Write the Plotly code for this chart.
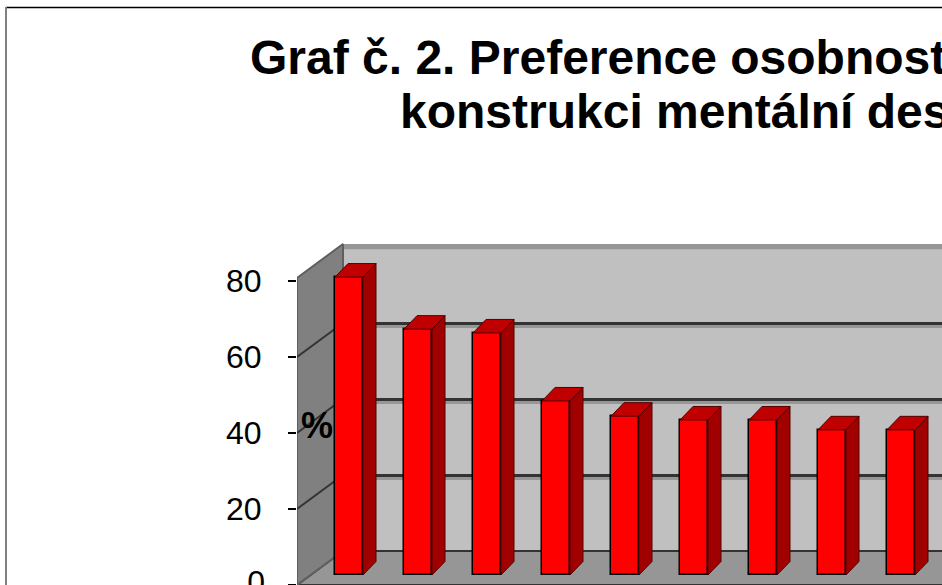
import plotly.graph_objects as go

# ---------------- data ----------------
categories = ["1", "2", "3", "4", "5", "6", "7", "8", "9"]
values = [78.4, 64.7, 63.7, 45.8, 41.8, 40.8, 40.8, 38.2, 38.2]
tick_values = [0, 20, 40, 60, 80]
tick_labels = ["0", "20", "40", "60", "80"]
grid_values = [0, 20, 40, 60]
title_line1 = "Graf č. 2. Preference osobností"
title_line2 = "konstrukci mentální des"
axis_title = "%"

# ---------------- geometry (layout) ----------------
W, H = 942, 585
PLOT_L, PLOT_T = 297, 230          # plot area left / top in px
PW, PH = W - PLOT_L, H - PLOT_T
PX_PER_CAT = 69.0
PX_PER_UNIT = 3.8
FIRST_CENTER_PX = 349.0

x_min = (PLOT_L - FIRST_CENTER_PX) / PX_PER_CAT
x_max = (W - FIRST_CENTER_PX) / PX_PER_CAT
y_top = PH / PX_PER_UNIT

BAR_PLANE_PX = 10.0
BACK_PLANE_PX = 34.0
WALL_DEPTH_X = 46.0 / PX_PER_CAT
WALL_DEPTH_Y = BACK_PLANE_PX / PX_PER_UNIT
WALL_TOP = 80.8
bar_w = 28.0 / PX_PER_CAT
bar_ddx = 13.0 / PX_PER_CAT
bar_ddy = 13.5 / PX_PER_UNIT

def px2paper_x(px):
    return px / W

def px2paper_y(py):
    return (H - py) / H

x_dom = [px2paper_x(PLOT_L), 1.0]
y_dom = [0.0, px2paper_y(PLOT_T)]

xs = list(range(len(categories)))

fig = go.Figure()

# floor
fig.add_trace(go.Scatter(
    x=[x_min, x_min + WALL_DEPTH_X, x_max + 1, x_max + 1, x_min],
    y=[0, WALL_DEPTH_Y, WALL_DEPTH_Y, 0, 0],
    fill="toself", fillcolor="#969696", mode="lines",
    line=dict(color="#333333", width=2), hoverinfo="skip", yaxis="y"))

# side wall
fig.add_trace(go.Scatter(
    x=[x_min, x_min, x_min + WALL_DEPTH_X, x_min + WALL_DEPTH_X, x_min],
    y=[0, WALL_TOP, WALL_TOP + WALL_DEPTH_Y, WALL_DEPTH_Y, 0],
    fill="toself", fillcolor="#808080", mode="lines",
    line=dict(color="#5f5f5f", width=2), hoverinfo="skip", yaxis="y"))

# side wall grid diagonals
dx_, dy_ = [], []
for v in grid_values[1:]:
    dx_ += [x_min, x_min + WALL_DEPTH_X, None]
    dy_ += [v, v + WALL_DEPTH_Y, None]
fig.add_trace(go.Scatter(x=dx_, y=dy_, mode="lines",
                         line=dict(color="#333333", width=2),
                         hoverinfo="skip", yaxis="y"))

# bars: front faces
fig.add_trace(go.Bar(
    x=xs, y=values, width=bar_w, yaxis="y2",
    marker=dict(color="#FF0000", line=dict(color="#000000", width=1.5)),
    hovertext=categories, hoverinfo="text+y"))

# bar side faces
sx, sy = [], []
for i, v in zip(xs, values):
    xr = i + bar_w / 2
    sx += [xr, xr + bar_ddx, xr + bar_ddx, xr, xr, None]
    sy += [0, bar_ddy, v + bar_ddy, v, 0, None]
fig.add_trace(go.Scatter(x=sx, y=sy, fill="toself", fillcolor="#A00000",
                         mode="lines", line=dict(color="#500000", width=1),
                         hoverinfo="skip", yaxis="y2"))

# bar top faces
tx, ty = [], []
for i, v in zip(xs, values):
    xl, xr = i - bar_w / 2, i + bar_w / 2
    tx += [xl, xr, xr + bar_ddx, xl + bar_ddx, xl, None]
    ty += [v, v, v + bar_ddy, v + bar_ddy, v, None]
fig.add_trace(go.Scatter(x=tx, y=ty, fill="toself", fillcolor="#C00000",
                         mode="lines", line=dict(color="#500000", width=1),
                         hoverinfo="skip", yaxis="y2"))

# the "0" tick label, cut by the bottom edge (clipped inside a small helper subplot)
fig.add_trace(go.Scatter(
    x=[1], y=[tick_values[0]], text=[tick_labels[0]], mode="text",
    textposition="middle left", cliponaxis=True,
    textfont=dict(size=32, family="Liberation Sans, Arial", color="#000000"),
    xaxis="x2", yaxis="y4", hoverinfo="skip"))

shapes = []
shapes.append(dict(type="rect", xref="x", yref="y3",
                   x0=x_min + WALL_DEPTH_X, x1=x_max + 1, y0=0, y1=WALL_TOP,
                   fillcolor="#C0C0C0", line=dict(width=0), layer="below"))
shapes.append(dict(type="rect", xref="x", yref="y3",
                   x0=x_min + WALL_DEPTH_X, x1=x_max + 1, y0=WALL_TOP - 1.4, y1=WALL_TOP,
                   fillcolor="#969696", line=dict(width=0), layer="below"))
for v in grid_values[1:]:
    shapes.append(dict(type="rect", xref="x", yref="y3",
                       x0=x_min + WALL_DEPTH_X, x1=x_max + 1, y0=v - 1.3, y1=v - 0.3,
                       fillcolor="#969696", line=dict(width=0), layer="below"))
# chart area border
shapes.append(dict(type="line", xref="paper", yref="paper",
                   x0=px2paper_x(6), x1=1.0, y0=px2paper_y(7.5), y1=px2paper_y(7.5),
                   line=dict(color="#000000", width=1.5)))
shapes.append(dict(type="line", xref="paper", yref="paper",
                   x0=px2paper_x(6), x1=px2paper_x(6), y0=px2paper_y(7), y1=0.0,
                   line=dict(color="#808080", width=2)))

annotations = [
    dict(text=f"<b>{title_line1}</b>", xref="paper", yref="paper",
         x=px2paper_x(248), y=px2paper_y(58), xanchor="left", yanchor="middle",
         showarrow=False, font=dict(family="Liberation Sans, Arial", size=48, color="#000000")),
    dict(text=f"<b>{title_line2}</b>", xref="paper", yref="paper",
         x=px2paper_x(398), y=px2paper_y(112), xanchor="left", yanchor="middle",
         showarrow=False, font=dict(family="Liberation Sans, Arial", size=48, color="#000000")),
    dict(text=f"<b>{axis_title}</b>", xref="paper", yref="paper",
         x=px2paper_x(317), y=px2paper_y(425), xanchor="center", yanchor="middle",
         showarrow=False, font=dict(family="Liberation Sans, Arial", size=36, color="#000000")),
]

fig.update_layout(
    width=W, height=H,
    margin=dict(l=0, r=0, t=0, b=0, pad=0),
    paper_bgcolor="#FFFFFF", plot_bgcolor="#FFFFFF",
    showlegend=False, bargap=0,
    font=dict(family="Liberation Sans, Arial", color="#000000"),
    xaxis=dict(domain=x_dom, range=[x_min, x_max], visible=False, fixedrange=True),
    yaxis=dict(domain=y_dom, range=[0, y_top], tickvals=tick_values,
               ticktext=[""] + tick_labels[1:],
               ticks="outside", ticklen=8, tickwidth=1.5, tickcolor="#000000",
               showgrid=False, zeroline=False, showline=False,
               tickfont=dict(size=32, family="Liberation Sans, Arial", color="#000000"),
               ticklabelstandoff=20),
    yaxis2=dict(domain=y_dom, range=[-BAR_PLANE_PX / PX_PER_UNIT, y_top - BAR_PLANE_PX / PX_PER_UNIT],
                overlaying="y", visible=False),
    yaxis3=dict(domain=y_dom, range=[-WALL_DEPTH_Y, y_top - WALL_DEPTH_Y], overlaying="y",
                tickvals=grid_values, showticklabels=False, ticks="",
                showgrid=True, gridcolor="#333333", gridwidth=2.5,
                zeroline=False, showline=False),
    xaxis2=dict(domain=[px2paper_x(200), px2paper_x(265)], range=[0, 1],
                anchor="y4", visible=False, fixedrange=True),
    yaxis4=dict(domain=[0.0, px2paper_y(545)], range=[0, 40 / PX_PER_UNIT],
                anchor="x2", visible=False, fixedrange=True),
    shapes=shapes, annotations=annotations,
)

fig.write_html("out.html", config={"displayModeBar": False},
               post_script="document.body.style.margin='0';document.body.style.overflow='hidden';")
